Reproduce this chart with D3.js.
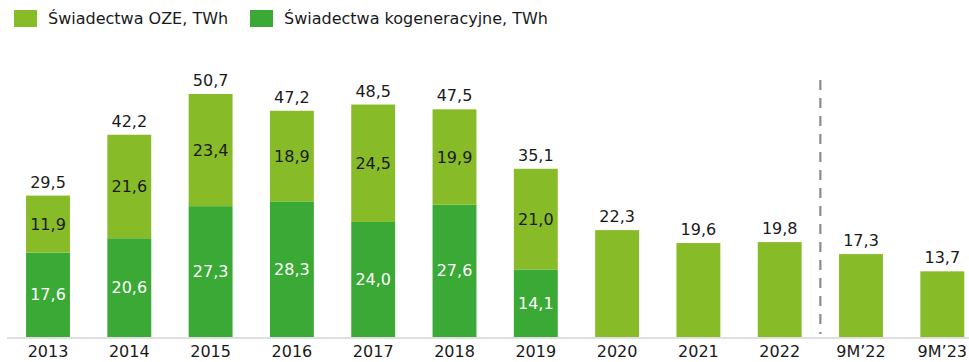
<!DOCTYPE html>
<html>
<head>
<meta charset="utf-8">
<script src="https://cdn.jsdelivr.net/npm/d3@7"></script>
<style>
  html, body { margin: 0; padding: 0; background: #fff; }
  svg { display: block; font-family: "DejaVu Sans", Verdana, sans-serif; }
</style>
</head>
<body>
<svg id="chart" width="969" height="362"></svg>
<script>
// Certificates issued, TWh
const categories = ["2013", "2014", "2015", "2016", "2017", "2018", "2019", "2020", "2021", "2022", "9M’22", "9M’23"];
const cogeneration = [17.6, 20.6, 27.3, 28.3, 24.0, 27.6, 14.1, 0, 0, 0, 0, 0];
const renewable = [11.9, 21.6, 23.4, 18.9, 24.5, 19.9, 21.0, 22.3, 19.6, 19.8, 17.3, 13.7];
const totals = [29.5, 42.2, 50.7, 47.2, 48.5, 47.5, 35.1, 22.3, 19.6, 19.8, 17.3, 13.7];
const seriesNames = ["Świadectwa OZE, TWh", "Świadectwa kogeneracyjne, TWh"];

const colorOZE = "#88bb28";
const colorKog = "#3ba935";
const textColor = "#1a1a1a";
const fontSize = 16;
const fmt = v => v.toFixed(1).replace(".", ",");

const svg = d3.select("#chart");
const baseY = 337;

const step = 81.3;
const left = 48 - step / 2;
const x = d3.scaleBand()
  .domain(categories)
  .range([left, left + step * categories.length])
  .paddingInner(0.46)
  .paddingOuter(0.23);

const y = d3.scaleLinear().domain([0, 50.7]).range([baseY, 94]);

const rows = categories.map((c, i) => ({
  cat: c, kog: cogeneration[i], oze: renewable[i], total: totals[i]
}));

// Baseline
svg.append("line")
  .attr("x1", 7).attr("x2", 969)
  .attr("y1", baseY + 1).attr("y2", baseY + 1)
  .attr("stroke", "#d4d4d4").attr("stroke-width", 1.5);

// Stacked bars
const layers = d3.stack().keys(["kog", "oze"])(rows);
const colors = { kog: colorKog, oze: colorOZE };

svg.append("g").selectAll("g")
  .data(layers)
  .join("g")
  .attr("fill", d => colors[d.key])
  .selectAll("rect")
  .data(d => d.filter(s => s[1] - s[0] > 0))
  .join("rect")
  .attr("x", d => x(d.data.cat))
  .attr("width", x.bandwidth())
  .attr("y", d => y(d[1]))
  .attr("height", d => y(d[0]) - y(d[1]));

// Segment labels (two-part bars only)
layers.forEach(layer => {
  svg.append("g").selectAll("text")
    .data(layer.filter(s => s.data.kog > 0 && s[1] - s[0] > 0))
    .join("text")
    .attr("x", d => x(d.data.cat) + x.bandwidth() / 2)
    .attr("y", d => (y(d[0]) + y(d[1])) / 2)
    .attr("dy", "0.35em")
    .attr("text-anchor", "middle")
    .attr("font-size", fontSize)
    .attr("fill", layer.key === "kog" ? "#ffffff" : textColor)
    .text(d => fmt(d[1] - d[0]));
});

// Totals above bars
svg.append("g").selectAll("text")
  .data(rows)
  .join("text")
  .attr("x", d => x(d.cat) + x.bandwidth() / 2)
  .attr("y", d => y(d.total) - 8)
  .attr("text-anchor", "middle")
  .attr("font-size", fontSize)
  .attr("fill", textColor)
  .text(d => fmt(d.total));

// Category axis
const gx = svg.append("g")
  .attr("transform", `translate(0,${baseY + 1})`)
  .call(d3.axisBottom(x).tickSize(0).tickPadding(8));
gx.select(".domain").remove();
gx.selectAll("text")
  .attr("font-size", fontSize)
  .attr("font-family", "DejaVu Sans, Verdana, sans-serif")
  .attr("fill", textColor);

// Separator between full years and nine-month periods
const sepX = (x("2022") + x.bandwidth() + x("9M’22")) / 2;
svg.append("line")
  .attr("x1", sepX).attr("x2", sepX)
  .attr("y1", 80).attr("y2", 334)
  .attr("stroke", "#8c8c8c")
  .attr("stroke-width", 2.2)
  .attr("stroke-dasharray", "10,8");

// Legend
const legendItems = [
  { name: seriesNames[0], color: colorOZE, x: 14 },
  { name: seriesNames[1], color: colorKog, x: 250 }
];
const legend = svg.append("g");
legendItems.forEach(it => {
  legend.append("rect")
    .attr("x", it.x).attr("y", 10)
    .attr("width", 23).attr("height", 17)
    .attr("fill", it.color);
  legend.append("text")
    .attr("x", it.x + 34).attr("y", 18)
    .attr("dy", "0.35em")
    .attr("font-size", fontSize)
    .attr("fill", textColor)
    .text(it.name);
});
</script>
</body>
</html>
